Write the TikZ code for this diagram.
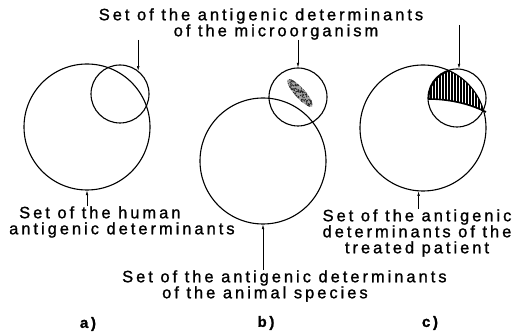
\documentclass[tikz,border=0pt]{standalone}
\usepackage{fontspec}
\setmainfont{Liberation Sans}[LetterSpace=18,FakeBold=1.2]
\usetikzlibrary{arrows.meta,positioning}

\tikzset{
  setline/.style={draw,circle,inner sep=0pt,line width=1.1pt},
  bigset/.style={setline,minimum size=126pt},
  smallset/.style={setline,minimum size=58pt},
  pointer/.style={-{Latex[length=4.5pt,width=2.6pt]},line width=0.5pt},
  caption/.style={inner sep=0pt,font=\fontsize{16.5}{16}\selectfont},
  panel/.style={inner sep=0pt,font=\fontsize{15}{16}\selectfont\bfseries}
}

\begin{document}
\begin{tikzpicture}[x=1pt,y=-1pt]
\useasboundingbox (0,0) rectangle (512,336);
% the three pairs of sets
\node[bigset] (bigA) at (87,127) {};
\node[smallset] (smA) at (120,94) {};
\node[bigset] (bigB) at (263,161) {};
\node[smallset] (smB) at (298,97) {};
\node[bigset] (bigC) at (423,128) {};
\node[smallset] (smC) at (457,98) {};

% b) shared determinants, speckled
\begin{scope}
  \clip[rotate around={-48:(300,93)}] (300,93) ellipse (18 and 5);
  \fill[black!35] (285,75) rectangle (316,111);
  \pgfmathsetseed{7}
  \foreach \i in {1,...,320}
    \fill[black!85] ({286+28*rnd},{78+30*rnd}) circle[radius=0.75];
\end{scope}

% c) hatched part
\begin{scope}
  \clip (smC.center) circle[radius=29];
  \clip (bigC.center) circle[radius=63];
  \clip (420,60) -- (428,99) .. controls (450,99) and (470,104) .. (487,113) -- (495,60) -- cycle;
  \foreach \x in {428,431,...,487} \draw[line width=1.3pt] (\x,60) -- (\x,120);
  \draw[line width=3pt] (smC.center) circle[radius=29];
\end{scope}
\draw[line width=1.6pt] (428,99) .. controls (450,99) and (470,104) .. (486,112);

% labels
\node[caption,align=center] (lblMicro) at (261,24) {Set of the antigenic determinants\\ \hspace*{30pt}of the microorganism};
\node[caption,align=left,anchor=west] (lblHuman) at (9,222) {\hspace*{10pt}Set of the human\\antigenic determinants};
\node[caption,align=left,anchor=west] (lblAnimal) at (122,286) {Set of the antigenic determinants\\\hspace*{40pt}of the animal species};
\node[caption,align=center] (lblTreated) at (417,233) {Set of the antigenic\\determinants of the\\treated patient};
\coordinate (topC) at (459,25);

\draw[pointer] (lblMicro.south -| smA.52) -- (smA.52);
\draw[pointer] (lblMicro.south -| smB.north) -- (smB.north);
\draw[pointer] (topC) -- (topC |- smC.north);
\draw[pointer] (lblHuman.north -| bigA.south) -- (bigA.south);
\draw[pointer] (lblAnimal.north -| bigB.south) -- (bigB.south);
\draw[pointer] (lblTreated.north -| bigC.266) -- (bigC.266);

\node[panel] (pa) at (88,324) {a)};
\node[panel] (pb) at (266,323) {b)};
\node[panel] (pc) at (430,323) {c)};
\end{tikzpicture}
\end{document}
